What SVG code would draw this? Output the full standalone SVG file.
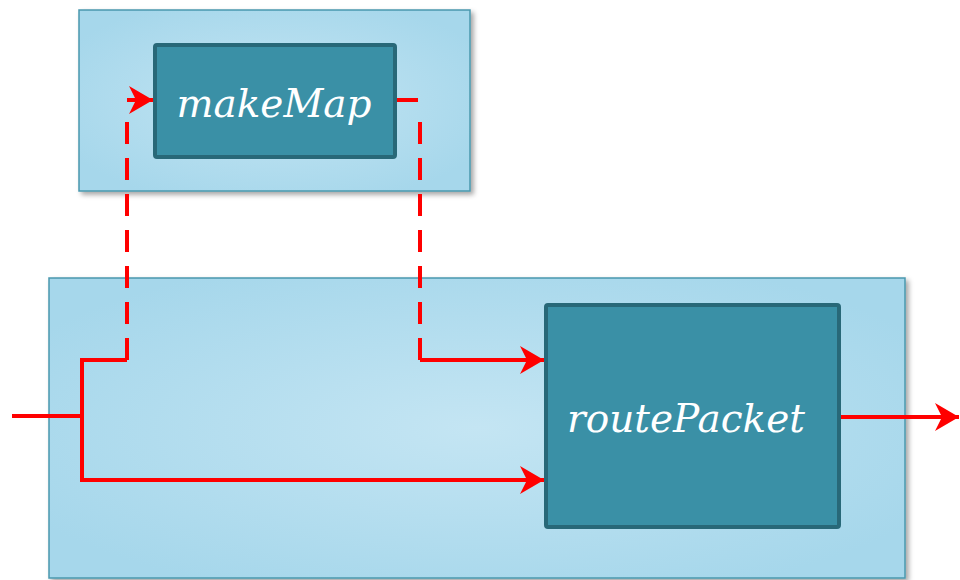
<svg xmlns="http://www.w3.org/2000/svg" width="960" height="580" viewBox="0 0 960 580">
<style>
.outer{stroke:#4a98ae;stroke-width:1.5;filter:url(#sh)}
.inner{fill:#3a90a6;stroke:#286878;stroke-width:4}
.lbl{font-family:"DejaVu Serif","Liberation Serif",serif;font-style:italic;font-size:39px;fill:#ffffff;text-anchor:middle}
.wire{fill:none;stroke:#ff0000;stroke-width:4}
.dash{stroke-dasharray:22 14}
</style>
<defs>
<radialGradient id="g1" cx="0.5" cy="0.5" r="0.6">
<stop offset="0" stop-color="#c4e5f3"/>
<stop offset="1" stop-color="#a6d7eb"/>
</radialGradient>
<filter id="sh" x="-5%" y="-5%" width="115%" height="115%">
<feDropShadow dx="3" dy="3" stdDeviation="2.5" flood-color="#000" flood-opacity="0.35"/>
</filter>
<marker id="ah" viewBox="0 0 24 28" refX="24" refY="14" markerWidth="24" markerHeight="28" markerUnits="userSpaceOnUse" orient="auto">
<path d="M0,0 L24,14 L0,28 L7,14 Z" fill="#ff0000"/>
</marker>
</defs>
<g id="makeMapContainer">
<rect class="outer" x="79" y="10" width="391" height="181" fill="url(#g1)"/>
</g>
<g id="routePacketContainer">
<rect class="outer" x="49" y="278" width="856" height="300" fill="url(#g1)"/>
</g>
<g id="makeMap">
<rect class="inner" x="155" y="45" width="240" height="112" rx="2"/>
<text class="lbl" x="274" y="117">makeMap</text>
</g>
<g id="routePacket">
<rect class="inner" x="546" y="305" width="293" height="222" rx="2"/>
<text class="lbl" x="686" y="432">routePacket</text>
</g>
<g id="connectors">
<path class="wire" d="M12,416 H82"/>
<path class="wire" d="M127,360 H82 V480 H544" marker-end="url(#ah)"/>
<path class="wire dash" d="M127,360 V112"/>
<path class="wire" d="M127,100 H153" marker-end="url(#ah)"/>
<path class="wire" d="M397,100 H418"/>
<path class="wire dash" d="M420,360 V113"/>
<path class="wire" d="M420,360 H544" marker-end="url(#ah)"/>
<path class="wire" d="M841,417 H959" marker-end="url(#ah)"/>
</g>
</svg>
